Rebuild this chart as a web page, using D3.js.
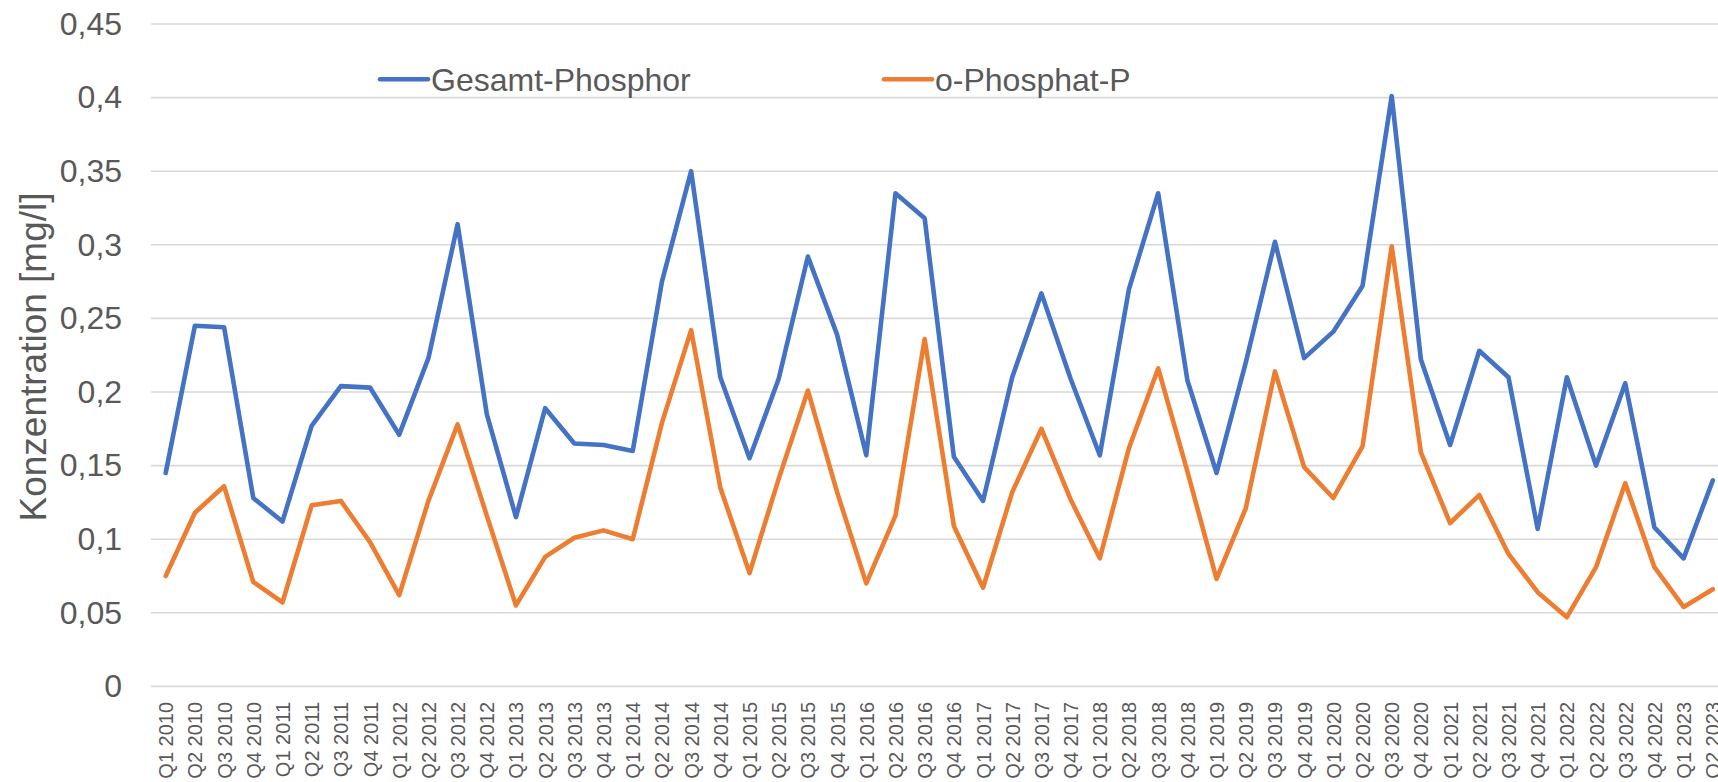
<!DOCTYPE html>
<html>
<head>
<meta charset="utf-8">
<script src="https://cdn.jsdelivr.net/npm/d3@7"></script>
<style>
  html, body { margin: 0; padding: 0; background: #fff; overflow: hidden; }
  svg { display: block; font-family: "Liberation Sans", Arial, sans-serif; }
</style>
</head>
<body>
<svg id="chart" width="1718" height="782"></svg>
<script>
const categories = [
  "Q1 2010","Q2 2010","Q3 2010","Q4 2010",
  "Q1 2011","Q2 2011","Q3 2011","Q4 2011",
  "Q1 2012","Q2 2012","Q3 2012","Q4 2012",
  "Q1 2013","Q2 2013","Q3 2013","Q4 2013",
  "Q1 2014","Q2 2014","Q3 2014","Q4 2014",
  "Q1 2015","Q2 2015","Q3 2015","Q4 2015",
  "Q1 2016","Q2 2016","Q3 2016","Q4 2016",
  "Q1 2017","Q2 2017","Q3 2017","Q4 2017",
  "Q1 2018","Q2 2018","Q3 2018","Q4 2018",
  "Q1 2019","Q2 2019","Q3 2019","Q4 2019",
  "Q1 2020","Q2 2020","Q3 2020","Q4 2020",
  "Q1 2021","Q2 2021","Q3 2021","Q4 2021",
  "Q1 2022","Q2 2022","Q3 2022","Q4 2022",
  "Q1 2023","Q2 2023"
];

const gesamtPhosphor = [
  0.145, 0.245, 0.244, 0.128,
  0.112, 0.177, 0.204, 0.203,
  0.171, 0.223, 0.314, 0.185,
  0.115, 0.189, 0.165, 0.164,
  0.160, 0.275, 0.350, 0.210,
  0.155, 0.209, 0.292, 0.239,
  0.157, 0.335, 0.318, 0.156,
  0.126, 0.210, 0.267, 0.209,
  0.157, 0.270, 0.335, 0.208,
  0.145, 0.220, 0.302, 0.223,
  0.241, 0.272, 0.401, 0.222,
  0.164, 0.228, 0.210, 0.107,
  0.210, 0.150, 0.206, 0.108,
  0.087, 0.140
];

const oPhosphatP = [
  0.075, 0.118, 0.136, 0.071,
  0.057, 0.123, 0.126, 0.098,
  0.062, 0.126, 0.178, 0.116,
  0.055, 0.088, 0.101, 0.106,
  0.100, 0.179, 0.242, 0.135,
  0.077, 0.141, 0.201, 0.132,
  0.070, 0.116, 0.236, 0.109,
  0.067, 0.132, 0.175, 0.127,
  0.087, 0.162, 0.216, 0.146,
  0.073, 0.121, 0.214, 0.149,
  0.128, 0.163, 0.299, 0.159,
  0.111, 0.130, 0.090, 0.064,
  0.047, 0.081, 0.138, 0.081,
  0.054, 0.066
];

const seriesNames = ["Gesamt-Phosphor", "o-Phosphat-P"];
const seriesColors = ["#4472C4", "#ED7D31"];
const yTicks = [0, 0.05, 0.1, 0.15, 0.2, 0.25, 0.3, 0.35, 0.4, 0.45];
const yTitle = "Konzentration [mg/l]";

const svg = d3.select("#chart");
const W = 1718, H = 782;
const plotLeft = 151.1, plotRight = 1727.4;
const plotTop = 24, plotBottom = 686.4;

const x = d3.scalePoint().domain(categories).range([plotLeft, plotRight]).padding(0.5);
const y = d3.scaleLinear().domain([0, 0.45]).range([plotBottom, plotTop]);

const de = d3.formatLocale({decimal: ",", thousands: ".", grouping: [3], currency: ["", " €"]});
const fmt = de.format("~g");

// gridlines
svg.append("g")
  .selectAll("line")
  .data(yTicks)
  .join("line")
  .attr("x1", plotLeft)
  .attr("x2", W)
  .attr("y1", d => y(d))
  .attr("y2", d => y(d))
  .attr("stroke", "#D9D9D9")
  .attr("stroke-width", 1.6);

// y axis labels
const yAxis = d3.axisLeft(y).tickValues(yTicks).tickFormat(fmt).tickSize(0).tickPadding(29);
const gy = svg.append("g").attr("transform", `translate(${plotLeft},0)`).call(yAxis);
gy.select(".domain").remove();
gy.selectAll("text")
  .attr("fill", "#595959")
  .style("font-size", "32px")
  .style("font-family", "'Liberation Sans', Arial, sans-serif");

// x axis labels
const xAxis = d3.axisBottom(x).tickSize(0).tickPadding(0);
const gx = svg.append("g").attr("transform", `translate(0,${plotBottom})`).call(xAxis);
gx.select(".domain").remove();
gx.selectAll("text")
  .attr("fill", "#595959")
  .style("font-size", "20px")
  .style("font-family", "'Liberation Sans', Arial, sans-serif")
  .attr("text-anchor", "end")
  .attr("transform", "rotate(-90)")
  .attr("x", -15.5)
  .attr("y", 0)
  .attr("dy", "0.35em");

// y title
svg.append("text")
  .attr("transform", `translate(46,357) rotate(-90)`)
  .attr("text-anchor", "middle")
  .attr("fill", "#595959")
  .style("font-size", "37px")
  .text(yTitle);

// lines
const line = d3.line().x((d, i) => x(categories[i])).y(d => y(d));
[gesamtPhosphor, oPhosphatP].forEach((vals, k) => {
  svg.append("path")
    .datum(vals)
    .attr("fill", "none")
    .attr("stroke", seriesColors[k])
    .attr("stroke-width", 4.6)
    .attr("stroke-linejoin", "round")
    .attr("stroke-linecap", "round")
    .attr("d", line);
});

// legend
const legendItems = [
  {name: seriesNames[0], color: seriesColors[0], x0: 380},
  {name: seriesNames[1], color: seriesColors[1], x0: 884}
];
const lg = svg.append("g");
legendItems.forEach(it => {
  lg.append("line")
    .attr("x1", it.x0).attr("x2", it.x0 + 48)
    .attr("y1", 79.3).attr("y2", 79.3)
    .attr("stroke", it.color)
    .attr("stroke-width", 4.6)
    .attr("stroke-linecap", "round");
  lg.append("text")
    .attr("x", it.x0 + 51)
    .attr("y", 90.5)
    .attr("fill", "#595959")
    .style("font-size", "32px")
    .text(it.name);
});
</script>
</body>
</html>
